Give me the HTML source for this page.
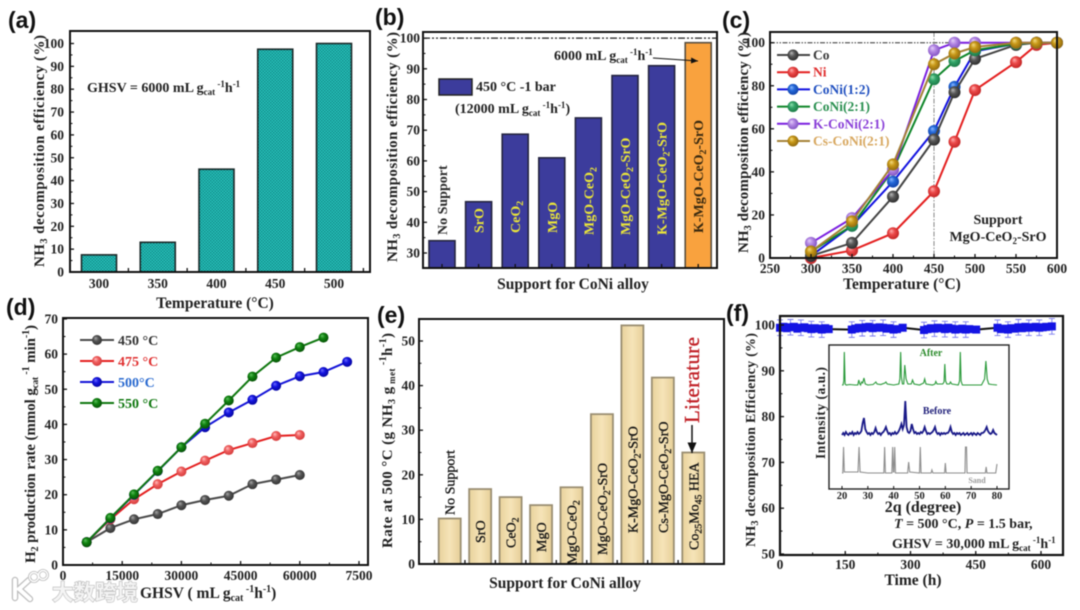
<!DOCTYPE html>
<html lang="en">
<head>
<meta charset="utf-8">
<title>NH3 decomposition figure</title>
<style>
html,body{margin:0;padding:0;background:#fff;width:1080px;height:610px;overflow:hidden}
svg{display:block;filter:blur(.5px)}
text{font-family:"Liberation Serif","Noto Serif CJK SC",serif;font-weight:bold;fill:#222}
.plab{font-family:"Liberation Sans",sans-serif;font-size:23px;fill:#111}
.tick{font-size:13.5px}
.title{font-size:15px}
.note{font-size:14px}
</style>
</head>
<body>
<svg id="fig" width="1080" height="610" viewBox="0 0 1080 610" xmlns="http://www.w3.org/2000/svg">
<defs>
<pattern id="teal" width="3" height="3" patternUnits="userSpaceOnUse">
<rect width="3" height="3" fill="#27c4be"/><rect width="1.5" height="1.5" fill="#148e8a"/><rect x="1.5" y="1.5" width="1.5" height="1.5" fill="#148e8a"/>
</pattern>
<linearGradient id="tan" x1="0" x2="1" y1="0" y2="0"><stop offset="0" stop-color="#e8d29c"/><stop offset=".5" stop-color="#f6e4b8"/><stop offset="1" stop-color="#e6cf98"/></linearGradient>
<marker id="ah" markerWidth="8" markerHeight="8" refX="7" refY="3" orient="auto"><path d="M0 0L7 3L0 6Z" fill="#111"/></marker>
<radialGradient id="b-co" cx=".45" cy=".45" fx=".35" fy=".3"><stop offset="0" stop-color="#bbb"/><stop offset=".5" stop-color="#5a5a5a"/><stop offset="1" stop-color="#333"/></radialGradient>
<radialGradient id="b-ni" cx=".45" cy=".45" fx=".35" fy=".3"><stop offset="0" stop-color="#ffb0b0"/><stop offset=".5" stop-color="#ec4a4a"/><stop offset="1" stop-color="#c82a2a"/></radialGradient>
<radialGradient id="b-c12" cx=".45" cy=".45" fx=".35" fy=".3"><stop offset="0" stop-color="#8ab8ff"/><stop offset=".5" stop-color="#2468d8"/><stop offset="1" stop-color="#1448b0"/></radialGradient>
<radialGradient id="b-c21" cx=".45" cy=".45" fx=".35" fy=".3"><stop offset="0" stop-color="#90e0b0"/><stop offset=".5" stop-color="#32a468"/><stop offset="1" stop-color="#20804c"/></radialGradient>
<radialGradient id="b-k" cx=".45" cy=".45" fx=".35" fy=".3"><stop offset="0" stop-color="#e4d0fa"/><stop offset=".5" stop-color="#b488e4"/><stop offset="1" stop-color="#8a5cc8"/></radialGradient>
<radialGradient id="b-cs" cx=".45" cy=".45" fx=".35" fy=".3"><stop offset="0" stop-color="#f4dc80"/><stop offset=".5" stop-color="#c89818"/><stop offset="1" stop-color="#987010"/></radialGradient>
<radialGradient id="b-red2" cx=".45" cy=".45" fx=".35" fy=".3"><stop offset="0" stop-color="#ffc0c0"/><stop offset=".5" stop-color="#f06060"/><stop offset="1" stop-color="#d84040"/></radialGradient>
<radialGradient id="b-blue2" cx=".45" cy=".45" fx=".35" fy=".3"><stop offset="0" stop-color="#7070ff"/><stop offset=".5" stop-color="#1414e0"/><stop offset="1" stop-color="#0808a8"/></radialGradient>
<radialGradient id="b-green2" cx=".45" cy=".45" fx=".35" fy=".3"><stop offset="0" stop-color="#60c060"/><stop offset=".5" stop-color="#108410"/><stop offset="1" stop-color="#085808"/></radialGradient>
<radialGradient id="b-grey2" cx=".45" cy=".45" fx=".35" fy=".3"><stop offset="0" stop-color="#aaa"/><stop offset=".5" stop-color="#555"/><stop offset="1" stop-color="#383838"/></radialGradient>
</defs>

<rect width="1080" height="610" fill="#fff"/>

<g id="pa"></g>
<g id="pb"></g>
<g id="pc"></g>
<g id="pd"></g>
<g id="pe"></g>
<g id="pf"></g>

<!-- panel letters -->
<text class="plab" x="8" y="28">(a)</text>
<text class="plab" x="375" y="25">(b)</text>
<text class="plab" x="722" y="28">(c)</text>
<text class="plab" x="6" y="315">(d)</text>
<text class="plab" x="377" y="323">(e)</text>
<text class="plab" x="726" y="321">(f)</text>

<!-- axis titles -->
<text class="title" transform="translate(44,267) rotate(-90)" textLength="232">NH<tspan dy="3" font-size="10">3</tspan><tspan dy="-3"> decomposition efficiency (%)</tspan></text>
<text class="tick" style="font-size:15.5px" x="215" y="308" text-anchor="middle">Temperature (°C)</text>
<text class="note" x="87" y="92">GHSV = 6000 mL g<tspan dy="3" font-size="9">cat</tspan><tspan dy="-8" font-size="9"> -1</tspan><tspan dy="5">h</tspan><tspan dy="-5" font-size="9">-1</tspan></text>

<text class="title" transform="translate(397,262) rotate(-90)" textLength="230">NH<tspan dy="3" font-size="10">3</tspan><tspan dy="-3"> decomposition efficiency (%)</tspan></text>
<text class="tick" style="font-size:15.5px" x="573" y="289" text-anchor="middle">Support for CoNi alloy</text>
<rect x="439" y="79" width="33" height="16" fill="#3c3c9c" stroke="#222" stroke-width="1.5"/>
<text class="note" x="476" y="91">450 °C -1 bar</text>
<text class="note" x="455" y="113">(12000  mL g<tspan dy="3" font-size="9">cat</tspan><tspan dy="-8" font-size="9"> -1</tspan><tspan dy="5">h</tspan><tspan dy="-5" font-size="9">-1</tspan><tspan dy="5">)</tspan></text>
<text class="note" x="554" y="60">6000 mL g<tspan dy="3" font-size="9">cat</tspan><tspan dy="-8" font-size="9"> -1</tspan><tspan dy="5">h</tspan><tspan dy="-5" font-size="9">-1</tspan></text>
<line x1="653" y1="58" x2="698" y2="61" stroke="#111" stroke-width="1" marker-end="url(#ah)"/>

<text class="title" transform="translate(748,253) rotate(-90)" textLength="221">NH<tspan dy="3" font-size="10">3</tspan><tspan dy="-3"> decomposition efficiency (%)</tspan></text>
<text class="tick" style="font-size:15.5px" x="902" y="289" text-anchor="middle">Temperature (°C)</text>
<text class="note" x="998" y="224" text-anchor="middle">Support</text>
<text class="note" x="998" y="241" text-anchor="middle">MgO-CeO<tspan dy="3" font-size="9">2</tspan><tspan dy="-3">-SrO</tspan></text>

<text class="title" transform="translate(35,563) rotate(-90)" textLength="238">H<tspan dy="3" font-size="10">2</tspan><tspan dy="-3"> production rate (mmol g</tspan><tspan dy="3" font-size="9">cat</tspan><tspan dy="-9" font-size="10"> -1</tspan><tspan dy="6"> min</tspan><tspan dy="-6" font-size="10">-1</tspan><tspan dy="6">)</tspan></text>
<text class="tick" style="font-size:15.5px" x="140" y="598">GHSV ( mL g<tspan dy="3" font-size="10">cat</tspan><tspan dy="-9" font-size="10"> -1</tspan><tspan dy="6">h</tspan><tspan dy="-6" font-size="10">-1</tspan><tspan dy="6">)</tspan></text>

<text class="title" transform="translate(392,548) rotate(-90)" textLength="215">Rate at 500 °C (g NH<tspan dy="3" font-size="10">3</tspan><tspan dy="-3"> g</tspan><tspan dy="3" font-size="9"> met</tspan><tspan dy="-9" font-size="10"> -1</tspan><tspan dy="6">h</tspan><tspan dy="-6" font-size="10">-1</tspan><tspan dy="6">)</tspan></text>
<text class="tick" style="font-size:15.5px" x="565" y="588" text-anchor="middle">Support for CoNi alloy</text>
<text transform="translate(699,423) rotate(-90)" style="font-size:21px;fill:#c01f25;stroke:#c01f25;stroke-width:.35;font-weight:normal" textLength="86">Literature</text>
<line x1="692" y1="425" x2="692" y2="453" stroke="#111" stroke-width="1.5" marker-end="url(#ah)"/>

<text class="title" style="font-size:14px" transform="translate(755,547) rotate(-90)" textLength="214">NH<tspan dy="3" font-size="10">3</tspan><tspan dy="-3"> decomposition Efficiency (%)</tspan></text>
<text class="tick" style="font-size:15.5px" x="913" y="585" text-anchor="middle">Time (h)</text>
<text class="note" x="894" y="528"><tspan font-style="italic">T</tspan> = 500 °C, <tspan font-style="italic">P</tspan> = 1.5 bar,</text>
<text class="note" x="892" y="548">GHSV = 30,000  mL g<tspan dy="3" font-size="9">cat</tspan><tspan dy="-8" font-size="9"> -1</tspan><tspan dy="5">h</tspan><tspan dy="-5" font-size="9">-1</tspan></text>

<!-- inset -->
<g id="inset"></g>
<text x="923" y="512" text-anchor="middle" style="font-size:16px">2q (degree)</text>
<text transform="translate(825,459) rotate(-90)" style="font-size:13.5px" textLength="92">Intensity (a.u.)</text>
<text x="931" y="356" text-anchor="middle" style="font-size:10px;fill:#2a8a2a">After</text>
<text x="937" y="414" text-anchor="middle" style="font-size:10px;fill:#20207a">Before</text>
<text x="977" y="483" text-anchor="middle" style="font-size:8px;fill:#999">Sand</text>

<!-- watermark -->
<g>
<g fill="none" stroke-linecap="round">
<path d="M15 580V598M29 580L19 589L30 599" stroke="#bdbdbd" stroke-width="6.5"/>
<path d="M15 580V598M29 580L19 589L30 599" stroke="#fff" stroke-width="4"/>
<circle cx="34" cy="577" r="4.5" stroke="#bdbdbd" stroke-width="3"/>
<circle cx="43" cy="575" r="4.5" stroke="#bdbdbd" stroke-width="3"/>
<circle cx="34" cy="577" r="4.5" stroke="#fff" stroke-width="1.4"/>
<circle cx="43" cy="575" r="4.5" stroke="#fff" stroke-width="1.4"/>
</g>
<text x="52" y="600" style="font-family:'Noto Sans CJK SC',sans-serif;font-size:21.5px;font-weight:bold;fill:#f4f4f4;stroke:#b4b4b4;stroke-width:1.1;paint-order:stroke">大数跨境</text>
</g>
</svg>

<script>
// ---- chart data ----
const aCategories = ['300','350','400','450','500'];
const aValues = [7.5,13,45,97.5,100];
const aYTicks = [0,10,20,30,40,50,60,70,80,90,100];

const bCategories = ['No Support','SrO','CeO2','MgO','MgO-CeO2','MgO-CeO2-SrO','K-MgO-CeO2-SrO','K-MgO-CeO2-SrO*'];
const bValues = [34,46.7,68.7,61,74,87.8,91,98.5];
const bYTicks = [30,40,50,60,70,80,90,100];

const cTemps = [300,350,400,450,475,500,550,575,600];
const cCo = [1,7,28.5,55,77,92.5,99,100,100];
const cNi = [0,3.5,11.5,31,54,78,91,99,100];
const cCoNi12 = [1,15,35.5,59,79.5,96,99.5,100,100];
const cCoNi21 = [3,15,41,83,91.5,96.5,99.5,100,100];
const cKCoNi = [7,18.5,41,96.5,100,100,100,100,100];
const cCsCoNi = [3,17,43.5,90,95,98,100,100,100];
const cXTicks = [250,300,350,400,450,500,550,600];
const cYTicks = [0,20,40,60,80,100];

const dGhsv = [6000,12000,18000,24000,30000,36000,42000,48000,54000,60000,66000,72000];
const d450 = [6.5,10.5,13,14.5,17,18.5,19.7,23,24.3,25.6];
const d475 = [6.5,13,18.7,23,26.6,29.7,32.7,34.7,36.7,37];
const d500 = [6.5,13.3,20,26.7,33.5,39.2,43.4,47,51,53.7,54.9,57.8];
const d550 = [6.5,13.4,20.1,26.8,33.5,40.2,46.8,53.6,59,62,64.7];
const dXTicks = [0,15000,30000,45000,60000,75000];
const dXLabels = ['0','15000','30000','45000','60000','7500'];
const dYTicks = [0,10,20,30,40,50,60,70];

const eCategories = ['No Support','SrO','CeO2','MgO','MgO-CeO2','MgO-CeO2-SrO','K-MgO-CeO2-SrO','Cs-MgO-CeO2-SrO','Co25Mo45 HEA'];
const eValues = [10.2,16.8,15,13.2,17.2,33.6,53.5,41.8,25];
const eYTicks = [0,10,20,30,40,50];

const fTime = [0,8,16,24,32,40,48,56,64,72,80,88,96,104,112,165,173,181,189,197,205,213,221,229,237,245,253,261,269,282,331,339,347,355,363,371,379,387,395,403,411,419,427,435,451,500,508,516,524,532,540,548,556,564,572,580,588,596,604,612,625];
const fEff = [99.4,99.6,99.3,99.5,99.6,99.2,99.4,99.5,99.3,99.1,99.3,99.2,99.0,99.3,99.1,99.0,99.2,99.4,99.3,99.5,99.6,99.3,99.4,99.5,99.4,99.2,99.3,99.0,99.1,99.4,98.9,99.1,99.3,99.2,99.4,99.3,99.1,99.4,99.2,99.0,99.1,99.2,99.0,99.1,99.0,99.4,99.1,99.2,99.0,99.3,99.2,99.5,99.3,99.6,99.4,99.5,99.6,99.4,99.5,99.6,99.7];
const fXTicks = [0,150,300,450,600];
const fYTicks = [50,60,70,80,90,100];

const insetTicks = [20,30,40,50,60,70,80];
const afterTheta = [20,20.4,20.7,20.9,21.2,21.6,23,25,26.1,26.5,26.9,27.2,27.6,28,28.5,29,30,32,32.7,33.1,33.6,35,36.6,37,37.5,40,42,42.4,42.7,43,43.4,43.9,44.3,44.8,45.5,46.8,47.3,47.9,50,51.6,52,52.5,55,56,56.3,56.8,59,59.5,59.8,60.1,60.6,61.6,62,62.5,65,65.5,65.8,66.1,66.6,70,74,75.2,75.7,76.2,76.8,78,80];
const afterI = [104,104,108,137,105,104,104.5,104,104,109,105,104,107,106,111,105,104,104.5,106,107,105,104.5,106,107,105,104,105,110,137,112,105,105,124,110,105,105,109,105,104,106,110,105,104,105,107.5,105,105,107,125,108,105,105,107,105,104,108,137,108,104,104,104,110,128,110,105,104.5,104];
const beforeTheta = [20,20.5,21,21.5,22,22.5,23,23.5,24,24.5,25,25.5,26,26.5,27,27.5,28,28.5,29,29.5,30,30.5,31,31.5,32,32.5,33,33.5,34,34.5,35,35.5,36,36.5,37,37.5,38,38.5,39,39.5,40,40.5,41,41.5,42,42.5,43,43.5,44,44.5,45,45.5,46,46.5,47,47.5,48,48.5,49,49.5,50,50.5,51,51.5,52,52.5,53,53.5,54,54.5,55,55.5,56,56.5,57,57.5,58,58.5,59,59.5,60,60.5,61,61.5,62,62.5,63,63.5,64,64.5,65,65.5,66,66.5,67,67.5,68,68.5,69,69.5,70,70.5,71,71.5,72,72.5,73,73.5,74,74.5,75,75.5,76,76.5,77,77.5,78,78.5,79,79.5,80];
const beforeI = [54,56,54,57,55,54,56,55,57,54,56,55,57,55,56,58,66,71,60,57,55,56,54,56,55,57,61,57,55,56,54,56,57,59,62,58,55,56,54,56,55,57,55,56,58,61,65,60,64,88,62,57,56,58,65,60,56,57,55,56,55,57,56,58,62,58,55,56,55,56,57,59,62,57,55,56,54,56,55,56,55,56,56,58,62,57,55,56,54,56,55,56,54,55,56,54,55,56,54,55,56,54,56,55,54,56,55,54,56,56,57,59,62,58,56,55,56,59,56,55,54];
const sandTheta = [20,20.3,20.6,20.9,22,26.2,26.6,27,30,36.2,36.5,36.8,39.3,39.6,39.9,40.1,40.4,40.7,45.4,45.8,46.2,50,50.3,50.6,54.5,54.8,55.2,59.7,60,60.3,67.6,67.8,68.2,68.4,75.5,75.8,76.1,79.5,80];
const sandI = [16,16,42,17,17,17,42,17,16,16,42,16,16,42,17,17,42,16,16,27,17,16,42,16,16,19,16,16,26,16,16,42,42,16,16,22,16,16,25];

// ---- helpers ----
const NS = 'http://www.w3.org/2000/svg';
function mk(tag, attrs, parent, txt) {
  const e = document.createElementNS(NS, tag);
  for (const k in attrs) e.setAttribute(k, attrs[k]);
  if (txt !== undefined) e.textContent = txt;
  parent.appendChild(e);
  return e;
}
function frame(parent, x0, y0, x1, y1, sw) {
  const f = mk('rect', {x:x0, y:y0, width:x1-x0, height:y1-y0, fill:'none', stroke:'#111', 'stroke-width':sw||2}, parent);
  
  
}
function yAxis(parent, ticks, sy, x0, labelX) {
  ticks.forEach((v, i) => {
    const t = mk('line', {x1:x0, x2:x0+4, y1:sy(v), y2:sy(v), stroke:'#111', 'stroke-width':1.3}, parent);
    
    
    const l = mk('text', {class:'tick', x:labelX, y:sy(v)+4.5, 'text-anchor':'end'}, parent, String(v));
    
    
    if (i < ticks.length-1) {
      const mv = (v + ticks[i+1]) / 2;
      const m = mk('line', {x1:x0, x2:x0+2.5, y1:sy(mv), y2:sy(mv), stroke:'#111', 'stroke-width':1}, parent);
      
      
    }
  });
}
function xAxis(parent, ticks, labels, sx, y0, labelY, minor) {
  ticks.forEach((v, i) => {
    const t = mk('line', {x1:sx(v), x2:sx(v), y1:y0, y2:y0-4, stroke:'#111', 'stroke-width':1.3}, parent);
    
    
    const l = mk('text', {class:'tick', x:sx(v), y:labelY, 'text-anchor':'middle'}, parent, labels[i]);
    
    
    if (minor && i < ticks.length-1) {
      const mv = (v + ticks[i+1]) / 2;
      const m = mk('line', {x1:sx(mv), x2:sx(mv), y1:y0, y2:y0-2.5, stroke:'#111', 'stroke-width':1}, parent);
      
      
    }
  });
}
function subLabel(parent, raw, x, y, fill, size) {
  const t = mk('text', {transform:'translate('+x+','+y+') rotate(-90)', style:'font-size:'+size+'px;fill:'+fill}, parent);
  raw.split(/(\d+)/).forEach((part, i) => {
    if (!part) return;
    const isSub = i % 2 === 1;
    const s = mk('tspan', isSub ? {dy:3, 'font-size':size*.7} : {dy: i > 0 ? -3 : 0}, t, part);
    
    
  });
  return t;
}

// ---- panel a ----
const pa = document.getElementById('pa');
const aY = v => 272 - v * 2.285;
const aX = i => 99 + i * 58.75;
aValues.forEach((v, i) => {
  const bar = mk('rect', {x:aX(i)-17.5, y:aY(v), width:35, height:aY(0)-aY(v), fill:'url(#teal)', stroke:'#1c2a2a', 'stroke-width':1.6}, pa);
  
  
});
frame(pa, 70, 31, 370, 272);
yAxis(pa, aYTicks, aY, 70, 64);
aCategories.forEach((c, i) => {
  const l = mk('text', {class:'tick', x:aX(i), y:288, 'text-anchor':'middle'}, pa, c);
  
  
  const t = mk('line', {x1:aX(i)+29.4, x2:aX(i)+29.4, y1:272, y2:268, stroke:'#111', 'stroke-width':1.3}, pa);
  
  
});

// ---- panel b ----
const pb = document.getElementById('pb');
const bY = v => 253 - (v - 30) * 3.07;
const bX = i => 442 + i * 36.6;
const bLabelStyle = [
  ['#2a2a2a',235],['#e9e43a',233],['#e9e43a',233],['#e9e43a',233],['#e9e43a',235],['#e9e43a',235],['#e9e43a',235],['#3a2a10',233]
];
bValues.forEach((v, i) => {
  const last = i === bValues.length - 1;
  const bar = mk('rect', {x:bX(i)-13, y:bY(v), width:26, height:268-bY(v), fill:last?'#f9a23e':'#3c3c9c', stroke:last?'#5a5040':'#252540', 'stroke-width':1.6}, pb);
  
  
});
frame(pb, 423, 32, 717, 268);
yAxis(pb, bYTicks, bY, 423, 420);
bValues.forEach((v, i) => {
  const t = mk('line', {x1:bX(i), x2:bX(i), y1:268, y2:264, stroke:'#111', 'stroke-width':1.3}, pb);
  
  
  const raw = bCategories[i].replace('*', '');
  const lab = subLabel(pb, raw, bX(i)+5, bLabelStyle[i][1], bLabelStyle[i][0], 14);
  
  
});
const bRef = mk('line', {x1:423, x2:717, y1:bY(100), y2:bY(100), stroke:'#222', 'stroke-width':1.2, 'stroke-dasharray':'7 2 2 2 2 2'}, pb);



// ---- panel c ----
const pc = document.getElementById('pc');
const cX = v => 770 + (v - 250) * 0.82;
const cY = v => 258 - v * 2.153;
const cSeries = [
  ['Co', cCo, '#444444', 'b-co', '#3a3a3a'],
  ['Ni', cNi, '#e42020', 'b-ni', '#e03030'],
  ['CoNi(1:2)', cCoNi12, '#1212e0', 'b-c12', '#2050c0'],
  ['CoNi(2:1)', cCoNi21, '#10862a', 'b-c21', '#2a9050'],
  ['K-CoNi(2:1)', cKCoNi, '#7a20e0', 'b-k', '#8a40d8'],
  ['Cs-CoNi(2:1)', cCsCoNi, '#a58236', 'b-cs', '#d8a860']
];
const c100 = mk('line', {x1:770, x2:1057, y1:cY(100), y2:cY(100), stroke:'#333', 'stroke-width':1, 'stroke-dasharray':'5 1.5 1.5 1.5 1.5 1.5'}, pc);


const c450 = mk('line', {x1:cX(450), x2:cX(450), y1:32, y2:258, stroke:'#888', 'stroke-width':1, 'stroke-dasharray':'5 1.5 1.5 1.5'}, pc);


[1,2,0,3,4,5].forEach(s => {
  const [name, vals, col, ball] = cSeries[s];
  const line = mk('polyline', {points:vals.map((v,i)=>cX(cTemps[i])+','+cY(v)).join(' '), fill:'none', stroke:col, 'stroke-width':2}, pc);
  
  
  vals.forEach((v, i) => {
    const dot = mk('circle', {cx:cX(cTemps[i]), cy:cY(v), r:6, fill:'url(#'+ball+')'}, pc);
    
    
  });
});
cSeries.forEach((s, i) => {
  const y = 55 + i * 17.2;
  const ll = mk('line', {x1:777, x2:810, y1:y, y2:y, stroke:s[2], 'stroke-width':2}, pc);
  
  
  const lb = mk('circle', {cx:793, cy:y, r:5.5, fill:'url(#'+s[3]+')'}, pc);
  
  
  const lt = mk('text', {x:813, y:y+4.5, style:'font-size:13.5px;fill:'+s[4]}, pc, s[0]);
  
  
});
frame(pc, 770, 32, 1057, 258);
yAxis(pc, cYTicks, cY, 770, 765);
xAxis(pc, cXTicks, cXTicks.map(String), cX, 258, 273, true);

// ---- panel d ----
const pd = document.getElementById('pd');
const dX = v => 63 + v * 59.2 / 15000;
const dY = v => 565 - v * 3.515;
const dSeries = [
  ['450 °C', d450, '#4a4a4a', 'b-grey2', '#333'],
  ['475 °C', d475, '#e42020', 'b-red2', '#e03030'],
  ['500°C', d500, '#1414d8', 'b-blue2', '#2a6ad0'],
  ['550 °C', d550, '#107810', 'b-green2', '#107810']
];
dSeries.forEach(s => {
  const line = mk('polyline', {points:s[1].map((v,i)=>dX(dGhsv[i])+','+dY(v)).join(' '), fill:'none', stroke:s[2], 'stroke-width':2}, pd);
  
  
  s[1].forEach((v, i) => {
    const dot = mk('circle', {cx:dX(dGhsv[i]), cy:dY(v), r:5, fill:'url(#'+s[3]+')'}, pd);
    
    
  });
});
dSeries.forEach((s, i) => {
  const y = 340 + i * 21;
  const ll = mk('line', {x1:80, x2:114, y1:y, y2:y, stroke:s[2], 'stroke-width':2}, pd);
  
  
  const lb = mk('circle', {cx:97, cy:y, r:5, fill:'url(#'+s[3]+')'}, pd);
  
  
  const lt = mk('text', {x:118, y:y+5, style:'font-size:14px;fill:'+s[4]}, pd, s[0]);
  
  
});
frame(pd, 63, 318, 368, 565);
yAxis(pd, dYTicks, dY, 63, 58);
xAxis(pd, dXTicks, dXLabels, dX, 565, 580, true);

// ---- panel e ----
const pe = document.getElementById('pe');
const eY = v => 564 - v * 4.46;
const eX = i => 449.7 + i * 30.45;
const eLabelBase = [515,543,548,552,565,555,533,533,550];
eValues.forEach((v, i) => {
  const bar = mk('rect', {x:eX(i)-11, y:eY(v), width:22, height:564-eY(v), fill:'url(#tan)', stroke:'#9a8e72', 'stroke-width':1.8}, pe);
  
  
});
frame(pe, 419, 319, 724, 564);
yAxis(pe, eYTicks, eY, 419, 415);
eValues.forEach((v, i) => {
  const t = mk('line', {x1:eX(i)-15.2, x2:eX(i)-15.2, y1:564, y2:560, stroke:'#111', 'stroke-width':1.3}, pe);
  
  
  const lab = subLabel(pe, eCategories[i], eX(i)+5, eLabelBase[i], '#111', 14);
  
  
  lab.style.fontWeight = 'normal';
  lab.style.stroke = '#111';
  lab.style.strokeWidth = '.3';
});

// ---- panel f ----
const pf = document.getElementById('pf');
const fX = v => 780 + v * 0.435;
const fY = v => 554 - (v - 50) * 4.58;
const fLine = mk('polyline', {points:fTime.map((t,i)=>fX(t)+','+fY(fEff[i])).join(' '), fill:'none', stroke:'#111', 'stroke-width':2}, pf);


fTime.forEach((t, i) => {
  if (i % 3 === 0) {
    const x = fX(t), y = fEff[i];
    const e = mk('path', {d:'M'+x+' '+fY(y+1.7)+'V'+fY(y-1.7)+'M'+(x-3)+' '+fY(y+1.7)+'h6M'+(x-3)+' '+fY(y-1.7)+'h6', stroke:'#7a7aee', 'stroke-width':.9, fill:'none'}, pf);
    
    
  }
  const m = mk('rect', {x:fX(t)-4, y:fY(fEff[i])-4, width:8, height:8, fill:'#1414e4'}, pf);
  
  
});
frame(pf, 780, 316, 1063, 555, 2.2);
yAxis(pf, fYTicks, fY, 780, 775);
xAxis(pf, fXTicks, fXTicks.map(String), fX, 555, 569, true);

// ---- inset ----
const inset = document.getElementById('inset');
const iX = v => 842 + (v - 20) * 155 / 60;
const iY = v => 489 - v;
const iBg = mk('rect', {x:829, y:345, width:180, height:144, fill:'#fff', stroke:'#222', 'stroke-width':1.4}, inset);


const traces = [
  ['after', afterTheta, afterI, '#2a9a3a', 1.1],
  ['before', beforeTheta, beforeI, '#1a1a88', 1.8],
  ['sand', sandTheta, sandI, '#8e8e8e', 1.1]
];
traces.forEach(tr => {
  const p = mk('polyline', {points:tr[1].map((t,i)=>iX(t)+','+iY(tr[2][i])).join(' '), fill:'none', stroke:tr[3], 'stroke-width':tr[4]}, inset);
  
  
});
insetTicks.forEach(v => {
  const t = mk('line', {x1:iX(v), x2:iX(v), y1:489, y2:486, stroke:'#111', 'stroke-width':1}, inset);
  
  
  const l = mk('text', {x:iX(v), y:499, 'text-anchor':'middle', style:'font-size:10.5px'}, inset, String(v));
  
  
});
</script>
</body>
</html>
